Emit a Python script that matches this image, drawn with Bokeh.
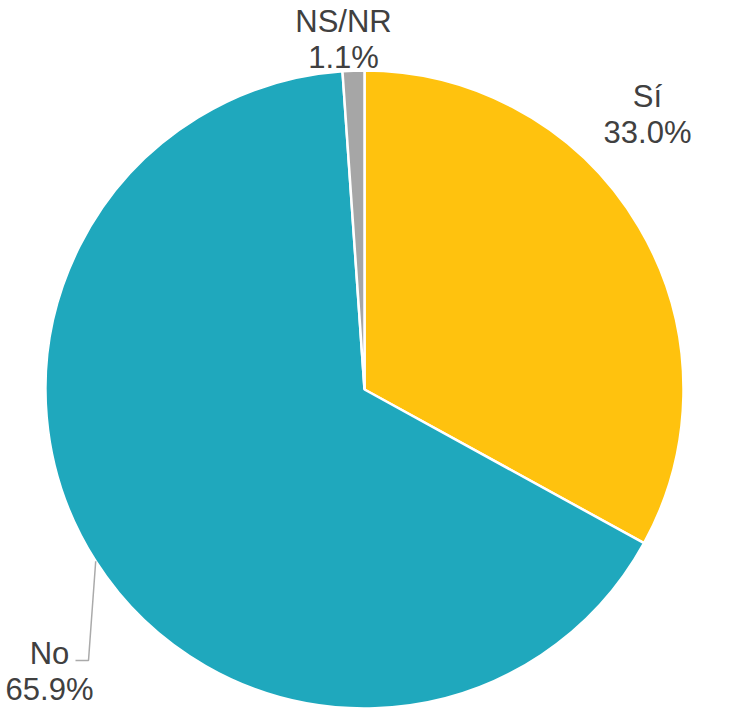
import math
from bokeh.plotting import figure
from bokeh.models import Range1d
from bokeh.core.properties import value
from bokeh.embed import file_html
from bokeh.resources import INLINE

# ---- data ----
categories = ["Sí", "No", "NS/NR"]
values = [33.0, 65.9, 1.1]
colors = ["#FFC20E", "#1FA8BD", "#A6A6A6"]

# ---- layout ----
W, H = 734, 709
cx, cy, r = 364, 320, 319
font = "Liberation Sans"
fs = "31px"
tcol = "#404040"
# label anchor (center x, baseline of first line) and line gap
label_pos = {"Sí": (647, 613), "No": (49, 56), "NS/NR": (343, 688)}
line_gap = 36
# leader elbow for "No" label
elbow = (88, 49)
leader_end_x = 75

p = figure(width=W, height=H, output_backend="svg", toolbar_location=None,
           x_range=Range1d(0, W), y_range=Range1d(0, H), min_border=0)
p.axis.visible = False
p.grid.visible = False
p.outline_line_color = None
p.background_fill_color = "white"

total = sum(values)
start = math.pi / 2
starts, ends, mids = [], [], []
for v in values:
    span = v / total * 2 * math.pi
    end = start - span
    starts.append(start)
    ends.append(end)
    mids.append((start + end) / 2)
    start = end

p.wedge(x=[cx] * 3, y=[cy] * 3, radius=r, start_angle=starts, end_angle=ends,
        direction="clock", fill_color=colors, line_color="white", line_width=2.5)

# leader line for "No"
i = categories.index("No")
lx0 = cx + r * math.cos(mids[i])
ly0 = cy + r * math.sin(mids[i])
p.line(x=[lx0, elbow[0], leader_end_x], y=[ly0, elbow[1], elbow[1]],
       line_color="#AAAAAA", line_width=1.5)

for k, cat in enumerate(categories):
    x, y = label_pos[cat]
    pct = f"{values[k]:.1f}%"
    p.text(x=[x, x], y=[y, y - line_gap], text=[cat, pct], text_font=value(font),
           text_font_size=fs, text_color=tcol, text_align="center",
           text_baseline="alphabetic")

open("out.html", "w").write(file_html(p, INLINE))
